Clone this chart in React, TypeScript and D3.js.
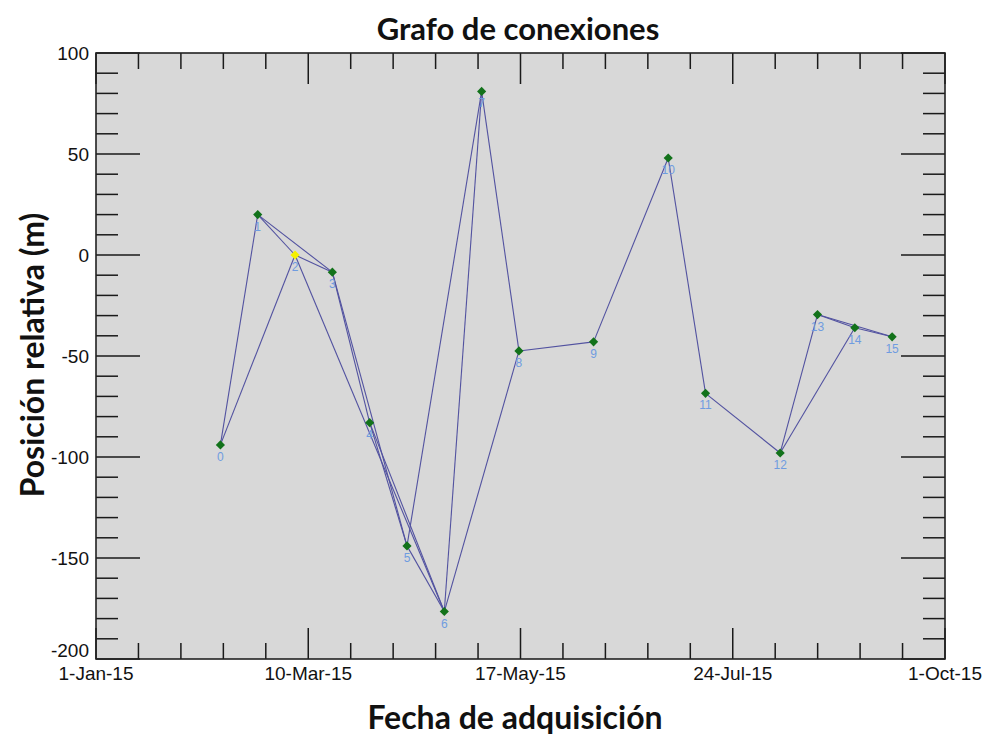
import React from "react";
import * as d3 from "d3";

const dates = ["2015-02-10","2015-02-22","2015-03-06","2015-03-18","2015-03-30","2015-04-11","2015-04-23","2015-05-05","2015-05-17","2015-06-10","2015-07-04","2015-07-16","2015-08-09","2015-08-21","2015-09-02","2015-09-14"];
const positions = [-94, 20, 0, -8.5, -83, -144, -176.5, 81, -47.5, -43, 48, -68.5, -98, -29.5, -36, -40.5];
const pointIds = [0,1,2,3,4,5,6,7,8,9,10,11,12,13,14,15];
const referenceId = 2;
const edgeFrom = [0,0,1,1,2,2,3,3,4,4,5,5,6,6,7,8,9,10,11,12,12,13,13,14];
const edgeTo   = [1,2,2,3,3,6,4,5,5,6,6,7,7,8,8,9,10,11,12,13,14,14,15,15];
const xTickLabels = ["1-Jan-15","10-Mar-15","17-May-15","24-Jul-15","1-Oct-15"];
const yTicks = [100, 50, 0, -50, -100, -150, -200];

const W = 990, H = 742;
const M = { left: 96, top: 53, right: 945, bottom: 659 };

export default function App() {
  const t0 = new Date(Date.UTC(2015,0,1));
  const t1 = new Date(Date.UTC(2015,9,1));
  const x = d3.scaleUtc().domain([t0, t1]).range([M.left, M.right]);
  const y = d3.scaleLinear().domain([-200, 100]).range([M.bottom, M.top]);
  const parse = (s: string) => new Date(s + "T00:00:00Z");
  const pts = dates.map((d, i) => ({ id: pointIds[i], x: x(parse(d)), y: y(positions[i]) }));

  const span = t1.getTime() - t0.getTime();
  const xMinor = d3.range(0, 21).map(i => ({ px: x(new Date(t0.getTime() + span * i / 20)), major: i % 5 === 0 }));
  const yMinor = d3.range(-200, 101, 10).map(v => ({ py: y(v), major: v % 50 === 0 }));
  const diamond = d3.symbol().type(d3.symbolSquare).size(42)()!;
  const tickColor = "#1a1a1a";
  const tickFont = "Liberation Sans, Arial, sans-serif";
  const titleFont = "Lato, Open Sans, sans-serif";

  return (
    <svg width={W} height={H} style={{ position: "absolute", left: 0, top: 0, background: "#fff" }}>
      <rect x={M.left} y={M.top} width={M.right - M.left} height={M.bottom - M.top} fill="#d8d8d8" />
      {xMinor.map((t, i) => (
        <g key={"xt" + i} stroke={tickColor} strokeWidth={1.5}>
          <line x1={t.px} x2={t.px} y1={M.bottom} y2={M.bottom - (t.major ? 31 : 16)} />
          <line x1={t.px} x2={t.px} y1={M.top} y2={M.top + (t.major ? 31 : 16)} />
        </g>
      ))}
      {yMinor.map((t, i) => (
        <g key={"yt" + i} stroke={tickColor} strokeWidth={1.5}>
          <line x1={M.left} x2={M.left + (t.major ? 44 : 22)} y1={t.py} y2={t.py} />
          <line x1={M.right} x2={M.right - (t.major ? 44 : 22)} y1={t.py} y2={t.py} />
        </g>
      ))}
      {edgeFrom.map((a, i) => (
        <line key={"e" + i} x1={pts[a].x} y1={pts[a].y} x2={pts[edgeTo[i]].x} y2={pts[edgeTo[i]].y}
          stroke="#5252a0" strokeWidth={1.1} />
      ))}
      {pts.map(p => (
        <text key={"l" + p.id} x={p.x} y={p.y + 16} textAnchor="middle" fontFamily={tickFont}
          fontSize={12} fill="#6f9ce0">{p.id}</text>
      ))}
      {pts.map(p => (
        <path key={"m" + p.id} d={diamond} transform={`translate(${p.x},${p.y}) rotate(45)`}
          fill={p.id === referenceId ? "#f5f000" : "#12721a"} />
      ))}
      <rect x={M.left} y={M.top} width={M.right - M.left} height={M.bottom - M.top} fill="none" stroke="#222" strokeWidth={1.6} />
      {yTicks.map(v => (
        <text key={"yl" + v} x={M.left - 7} y={y(v) + (v === -200 ? -9 : 0)} dy="0.35em" textAnchor="end"
          fontFamily={tickFont} fontSize={19} fill="#111">{v}</text>
      ))}
      {xTickLabels.map((l, i) => (
        <text key={"xl" + i} x={x(new Date(t0.getTime() + span * i / 4))} y={M.bottom + 21} textAnchor="middle"
          fontFamily={tickFont} fontSize={19} fill="#111">{l}</text>
      ))}
      <text x={518} y={40} textAnchor="middle" fontFamily={titleFont} fontWeight="bold" fontSize={31} fill="#111">Grafo de conexiones</text>
      <text x={515} y={729} textAnchor="middle" fontFamily={titleFont} fontWeight="bold" fontSize={32} fill="#111">Fecha de adquisición</text>
      <text transform={`translate(44,${355}) rotate(-90)`} textAnchor="middle" fontFamily={titleFont} fontWeight="bold" fontSize={32} fill="#111">Posición relativa (m)</text>
    </svg>
  );
}
